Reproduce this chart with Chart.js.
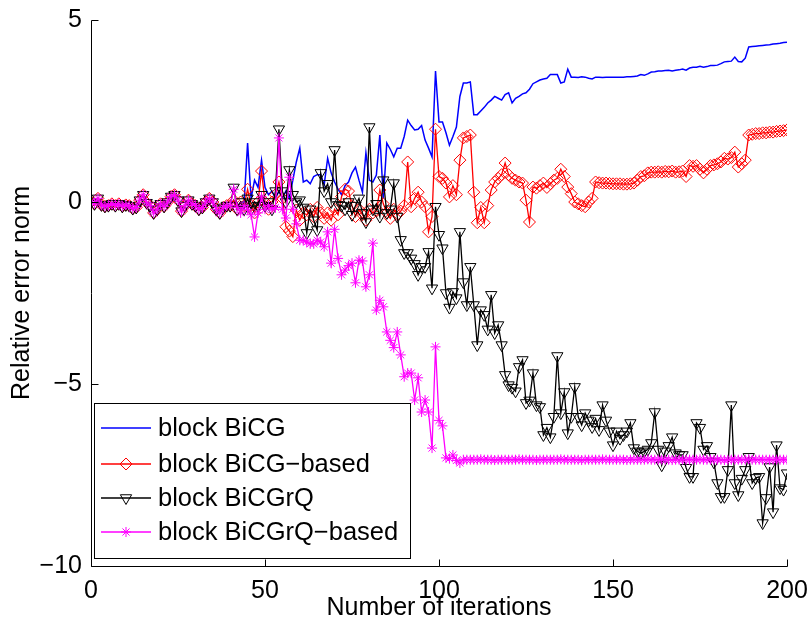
<!DOCTYPE html>
<html>
<head>
<meta charset="utf-8">
<script src="https://cdn.jsdelivr.net/npm/chart.js@4/dist/chart.umd.min.js"></script>
<style>
  html, body { margin: 0; padding: 0; background: #fff; }
</style>
</head>
<body>
<canvas id="myChart" width="810" height="627"></canvas>
<script>
// axis ticks
const xTicks = [0, 50, 100, 150, 200];
const yTicks = [-10, -5, 0, 5];

// iterations 0..39, all four methods overlap here
const startValues = [
  0.0, -0.05, 0.1, -0.08, -0.12, -0.1, -0.05, -0.1, -0.05, -0.12,
  -0.08, -0.1, -0.18, -0.15, 0.05, 0.2, -0.02, -0.1, -0.3, -0.2,
  -0.05, -0.12, 0.0, 0.15, 0.2, 0.05, -0.25, -0.1, 0.05, -0.05,
  -0.1, -0.2, -0.15, 0.0, 0.1, 0.0, -0.2, -0.3, -0.15, -0.1
];

// iterations 40..200
const blueBiCG = [
  -0.1, 0.05, -0.15, 0.0, 0.0, 1.62, 0.1, 0.6, 0.4, 1.15,
  0.4, 0.2, 0.3, 0.1, 0.3, 0.1, 0.3, 0.1, 0.6, 1.1,
  1.48, 0.55, 0.6, 0.5, 0.7, 0.75, 0.75, 0.47, 1.2, 0.8,
  0.55, 0.35, 0.2, 0.45, 0.55, 0.8, 0.96, 0.6, 0.27, 1.35,
  0.6, 0.55, 0.74, 1.84, 0.1, 1.62, 1.45, 1.24, 1.48, 1.48,
  1.8, 2.25, 2.1, 1.98, 2.0, 2.1, 1.7, 1.48, 1.24, 3.6,
  2.2, 2.2, 1.9, 1.56, 1.8, 2.06, 2.9, 3.27, 3.27, 3.3,
  2.4, 2.4, 2.5, 2.6, 2.72, 2.8, 2.9, 2.85, 2.8, 2.95,
  3.0, 2.72, 2.85, 2.9, 2.97, 3.0, 3.1, 3.25, 3.3, 3.35,
  3.38, 3.4, 3.5, 3.5, 3.5, 3.27, 3.3, 3.65, 3.43, 3.43,
  3.42, 3.44, 3.43, 3.4, 3.38, 3.43, 3.43, 3.42, 3.43, 3.43,
  3.43, 3.43, 3.43, 3.43, 3.44, 3.44, 3.45, 3.46, 3.5, 3.48,
  3.52, 3.57, 3.58, 3.6, 3.6, 3.61, 3.62, 3.6, 3.62, 3.63,
  3.65, 3.62, 3.68, 3.7, 3.7, 3.73, 3.7, 3.72, 3.75, 3.75,
  3.76, 3.8, 3.85, 3.86, 3.87, 3.98, 3.86, 3.85, 3.95, 4.26,
  4.27, 4.28, 4.29, 4.3, 4.31, 4.32, 4.34, 4.35, 4.36, 4.38, 4.39
];

const redBiCGBased = [
  -0.1, 0.05, -0.2, 0.0, -0.1, 0.35, -0.1, -0.3, 0.0, 0.85,
  0.0, -0.2, 0.0, 0.2, 0.55, 0.1, -0.68, -0.8, -0.95, -0.22,
  -0.5, -0.3, -0.35, -0.2, -0.4, -0.15, -0.3, -0.45, -0.3, -0.5,
  -0.2, -0.35, 0.15, 0.35, 0.3, -0.1, -0.4, -0.2, -0.35, -0.5,
  -0.2, -0.3, -0.25, 0.33, -0.05, -0.3, -0.45, -0.2, -0.35, -0.25,
  -0.1, 1.1, -0.13, 0.1, 0.27, 0.0, -0.13, -0.82, -0.4, 2.0,
  0.7, 0.65, 0.52, 0.14, 0.45, 0.2, 1.15, 1.76, 1.8, 1.84,
  0.27, -0.57, -0.15, -0.57, -0.1, 0.33, 0.55, 0.65, 0.75, 1.07,
  0.75, 0.65, 0.6, 0.55, 0.52, 0.05, -0.55, 0.41, 0.38, 0.45,
  0.52, 0.4, 0.5, 0.6, 0.65, 0.9, 0.7, 0.41, 0.23, 0.0,
  -0.05, -0.1, -0.13, 0.0, 0.1, 0.55, 0.53, 0.52, 0.52, 0.51,
  0.5, 0.5, 0.5, 0.49, 0.49, 0.5, 0.52, 0.6, 0.7, 0.72,
  0.8, 0.82, 0.82, 0.83, 0.82, 0.84, 0.83, 0.85, 0.82, 0.83,
  0.85, 0.7, 1.0, 0.98, 1.0, 0.9, 0.8, 0.9, 1.0, 1.02,
  1.05, 1.1, 1.2, 1.18, 1.22, 1.37, 0.96, 1.05, 1.15, 1.84,
  1.86, 1.88, 1.88, 1.9, 1.9, 1.92, 1.92, 1.94, 1.95, 1.96, 1.98
];

const blackBiCGrQ = [
  -0.1, 0.4, -0.2, 0.0, -0.2, 0.1, -0.2, 0.0, -0.1, 0.2,
  -0.1, 0.0, -0.2, 0.3, 2.0, 0.3, 0.0, 0.88, 0.2, 0.0,
  0.05, -0.15, -0.85, -0.2, -0.5, -0.77, 0.8, 0.3, 0.5, 0.0,
  1.43, -0.08, -0.1, -0.2, 0.0, -0.35, -0.1, 0.1, -0.3, -0.55,
  2.06, -0.2, -0.05, -0.4, 0.6, -0.3, -0.2, 0.52, -0.4, -1.04,
  -1.4, -1.4, -1.55, -1.7, -2.0, -1.78, -1.78, -1.37, -2.37, -0.13,
  -0.9, -1.27, -2.5, -2.9, -2.47, -2.64, -0.82, -2.2, -2.83, -1.78,
  -2.83, -3.93, -2.97, -3.1, -3.5, -2.55, -3.6, -3.38, -3.93, -4.75,
  -5.03, -5.1, -5.2, -4.53, -4.34, -5.52, -5.45, -4.7, -5.58, -5.63,
  -6.4, -6.2, -6.46, -5.9, -4.23, -5.8, -5.22, -6.35, -5.9, -5.08,
  -5.9, -6.13, -5.8, -6.0, -6.18, -5.95, -6.26, -5.58, -6.0, -6.3,
  -6.68, -6.3, -6.5, -6.4, -6.3, -6.07, -6.76, -6.85, -6.9, -6.85,
  -6.8, -6.62, -5.77, -6.8, -7.23, -6.85, -6.7, -6.46, -6.9, -6.95,
  -6.95, -7.3, -7.55, -7.55, -6.07, -6.2, -6.8, -6.7, -7.0, -7.15,
  -7.72, -8.1, -8.1, -7.36, -5.58, -7.72, -8.05, -7.6, -7.36, -7.0,
  -7.72, -7.58, -7.55, -8.82, -8.13, -7.28, -8.52, -6.68, -7.86, -7.9, -7.45
];

const magentaBiCGrQBased = [
  -0.1, 0.35, -0.15, -0.3, -0.1, -0.2, -0.35, -0.96, -0.3, 0.14,
  -0.2, -0.1, -0.2, -0.15, 1.76, -0.2, -0.44, 0.68, -0.2, -0.6,
  -1.05, -1.05, -1.1, -1.15, -1.15, -1.05, -1.1, -1.23, -0.82, -1.68,
  -0.75, -1.55, -2.0, -1.87, -1.75, -1.68, -2.22, -1.6, -1.62, -2.33,
  -2.0, -1.13, -2.97, -2.7, -2.88, -3.57, -3.8, -4.0, -3.57, -4.2,
  -4.8, -4.7, -4.7, -5.44, -4.83, -5.77, -5.44, -5.77, -6.76, -3.98,
  -6.0, -6.15, -7.03, -7.05, -6.95, -7.1, -7.17, -7.08, -7.08, -7.08,
  -7.08, -7.08, -7.07, -7.08, -7.08, -7.08, -7.09, -7.08, -7.08, -7.08,
  -7.08, -7.08, -7.08, -7.07, -7.08, -7.08, -7.08, -7.08, -7.09, -7.08,
  -7.08, -7.08, -7.08, -7.08, -7.08, -7.07, -7.08, -7.08, -7.08, -7.08,
  -7.08, -7.09, -7.08, -7.08, -7.08, -7.08, -7.08, -7.07, -7.08, -7.08,
  -7.08, -7.08, -7.08, -7.08, -7.09, -7.08, -7.08, -7.08, -7.08, -7.08,
  -7.07, -7.08, -7.08, -7.08, -7.08, -7.08, -7.08, -7.09, -7.08, -7.08,
  -7.08, -7.08, -7.08, -7.08, -7.08, -7.07, -7.08, -7.08, -7.08, -7.08,
  -7.08, -7.08, -7.09, -7.08, -7.08, -7.08, -7.08, -7.08, -7.08, -7.07,
  -7.08, -7.08, -7.08, -7.08, -7.08, -7.08, -7.08, -7.08, -7.08, -7.08, -7.08
];

const FONT = "'Liberation Sans', Arial, Helvetica, sans-serif";

// turn a list of values into {x: iteration, y: value}
function toPoints(tail) {
  return startValues.concat(tail).map((v, i) => ({ x: i, y: v }));
}

function minus(v) {
  return String(v).replace('-', '\u2212');
}

// left/bottom axes with inward ticks, and the boxed legend (matlab look)
const matlabFrame = {
  id: 'matlabFrame',
  afterDatasetsDraw(chart) {
    const ctx = chart.ctx;
    const a = chart.chartArea;
    const xs = chart.scales.x;
    const ys = chart.scales.y;
    const L = Math.round(a.left) + 0.5, R = Math.round(a.right) + 0.5;
    const T = Math.round(a.top) + 0.5, B = Math.round(a.bottom) + 0.5;
    ctx.save();
    ctx.strokeStyle = '#000';
    ctx.lineWidth = 1;
    ctx.beginPath();
    ctx.moveTo(L, T); ctx.lineTo(L, B); ctx.lineTo(R, B);
    xTicks.forEach(v => {
      const px = Math.round(xs.getPixelForValue(v)) + 0.5;
      ctx.moveTo(px, B); ctx.lineTo(px, B - 7);
    });
    yTicks.forEach(v => {
      const py = Math.round(ys.getPixelForValue(v)) + 0.5;
      ctx.moveTo(L, py); ctx.lineTo(L + 7, py);
    });
    ctx.stroke();

    // legend box
    const box = { x: 94.5, y: 403.5, w: 316, h: 155 };
    ctx.fillStyle = '#fff';
    ctx.fillRect(box.x, box.y, box.w, box.h);
    ctx.strokeRect(box.x, box.y, box.w, box.h);
    const rows = [428, 464, 498, 532];
    ctx.font = '25.5px ' + FONT;
    ctx.textBaseline = 'middle';
    chart.data.datasets.forEach((ds, i) => {
      const y = rows[i];
      ctx.strokeStyle = ds.borderColor;
      ctx.lineWidth = ds.borderWidth;
      ctx.beginPath();
      ctx.moveTo(101, y); ctx.lineTo(151, y);
      ctx.stroke();
      if (ds.pointRadius > 0) {
        ctx.lineWidth = ds.pointBorderWidth;
        ctx.fillStyle = 'rgba(0,0,0,0)';
        Chart.helpers.drawPoint(ctx, {
          pointStyle: ds.pointStyle,
          rotation: ds.pointRotation || 0,
          radius: ds.pointRadius,
          borderWidth: ds.pointBorderWidth
        }, 126, y);
      }
      ctx.fillStyle = '#000';
      ctx.fillText(ds.label, 158, y + 1);
    });
    ctx.restore();
  }
};

const config = {
  type: 'line',
  data: {
    datasets: [
      {
        label: 'block BiCG',
        data: toPoints(blueBiCG),
        borderColor: '#0000ff',
        borderWidth: 1.5,
        pointRadius: 0,
        order: 4
      },
      {
        label: 'block BiCG\u2212based',
        data: toPoints(redBiCGBased),
        borderColor: '#ff0000',
        borderWidth: 1.3,
        pointStyle: 'rectRot',
        pointRadius: 6,
        pointBorderWidth: 1,
        pointBorderColor: '#ff0000',
        pointBackgroundColor: 'rgba(0,0,0,0)',
        order: 3
      },
      {
        label: 'block BiCGrQ',
        data: toPoints(blackBiCGrQ),
        borderColor: '#000000',
        borderWidth: 1.3,
        pointStyle: 'triangle',
        pointRotation: 180,
        pointRadius: 6.5,
        pointBorderWidth: 1,
        pointBorderColor: '#000000',
        pointBackgroundColor: 'rgba(0,0,0,0)',
        order: 2
      },
      {
        label: 'block BiCGrQ\u2212based',
        data: toPoints(magentaBiCGrQBased),
        borderColor: '#ff00ff',
        borderWidth: 1.3,
        pointStyle: 'star',
        pointRadius: 5,
        pointBorderWidth: 1,
        pointBorderColor: '#ff00ff',
        pointBackgroundColor: 'rgba(0,0,0,0)',
        order: 1
      }
    ]
  },
  options: {
    responsive: false,
    animation: false,
    layout: { padding: { left: 0, top: 20, right: 23, bottom: 0 } },
    plugins: {
      legend: { display: false },
      tooltip: { enabled: false }
    },
    elements: { line: { tension: 0 } },
    scales: {
      x: {
        type: 'linear',
        min: 0,
        max: 200,
        afterFit: s => { s.height = 61; s.paddingLeft = 0; s.paddingRight = 0; },
        afterBuildTicks: s => { s.ticks = xTicks.map(v => ({ value: v })); },
        grid: { display: false, drawTicks: false },
        border: { display: false },
        ticks: {
          color: '#000',
          padding: 10,
          maxRotation: 0,
          font: { family: FONT, size: 25 },
          callback: v => minus(v)
        },
        title: {
          display: true,
          text: 'Number of iterations',
          color: '#000',
          font: { family: FONT, size: 25 },
          padding: { top: 0, bottom: 4 }
        }
      },
      y: {
        type: 'linear',
        min: -10,
        max: 5,
        afterFit: s => { s.width = 91; s.paddingTop = 0; s.paddingBottom = 0; },
        afterBuildTicks: s => { s.ticks = yTicks.map(v => ({ value: v })); },
        grid: { display: false, drawTicks: false },
        border: { display: false },
        ticks: {
          color: '#000',
          padding: 9,
          font: { family: FONT, size: 25 },
          callback: v => minus(v)
        },
        title: {
          display: true,
          text: 'Relative error norm',
          color: '#000',
          font: { family: FONT, size: 25 },
          padding: { top: 7, bottom: 0 }
        }
      }
    }
  },
  plugins: [matlabFrame]
};

var myChart = new Chart(document.getElementById('myChart'), config);
</script>
</body>
</html>
